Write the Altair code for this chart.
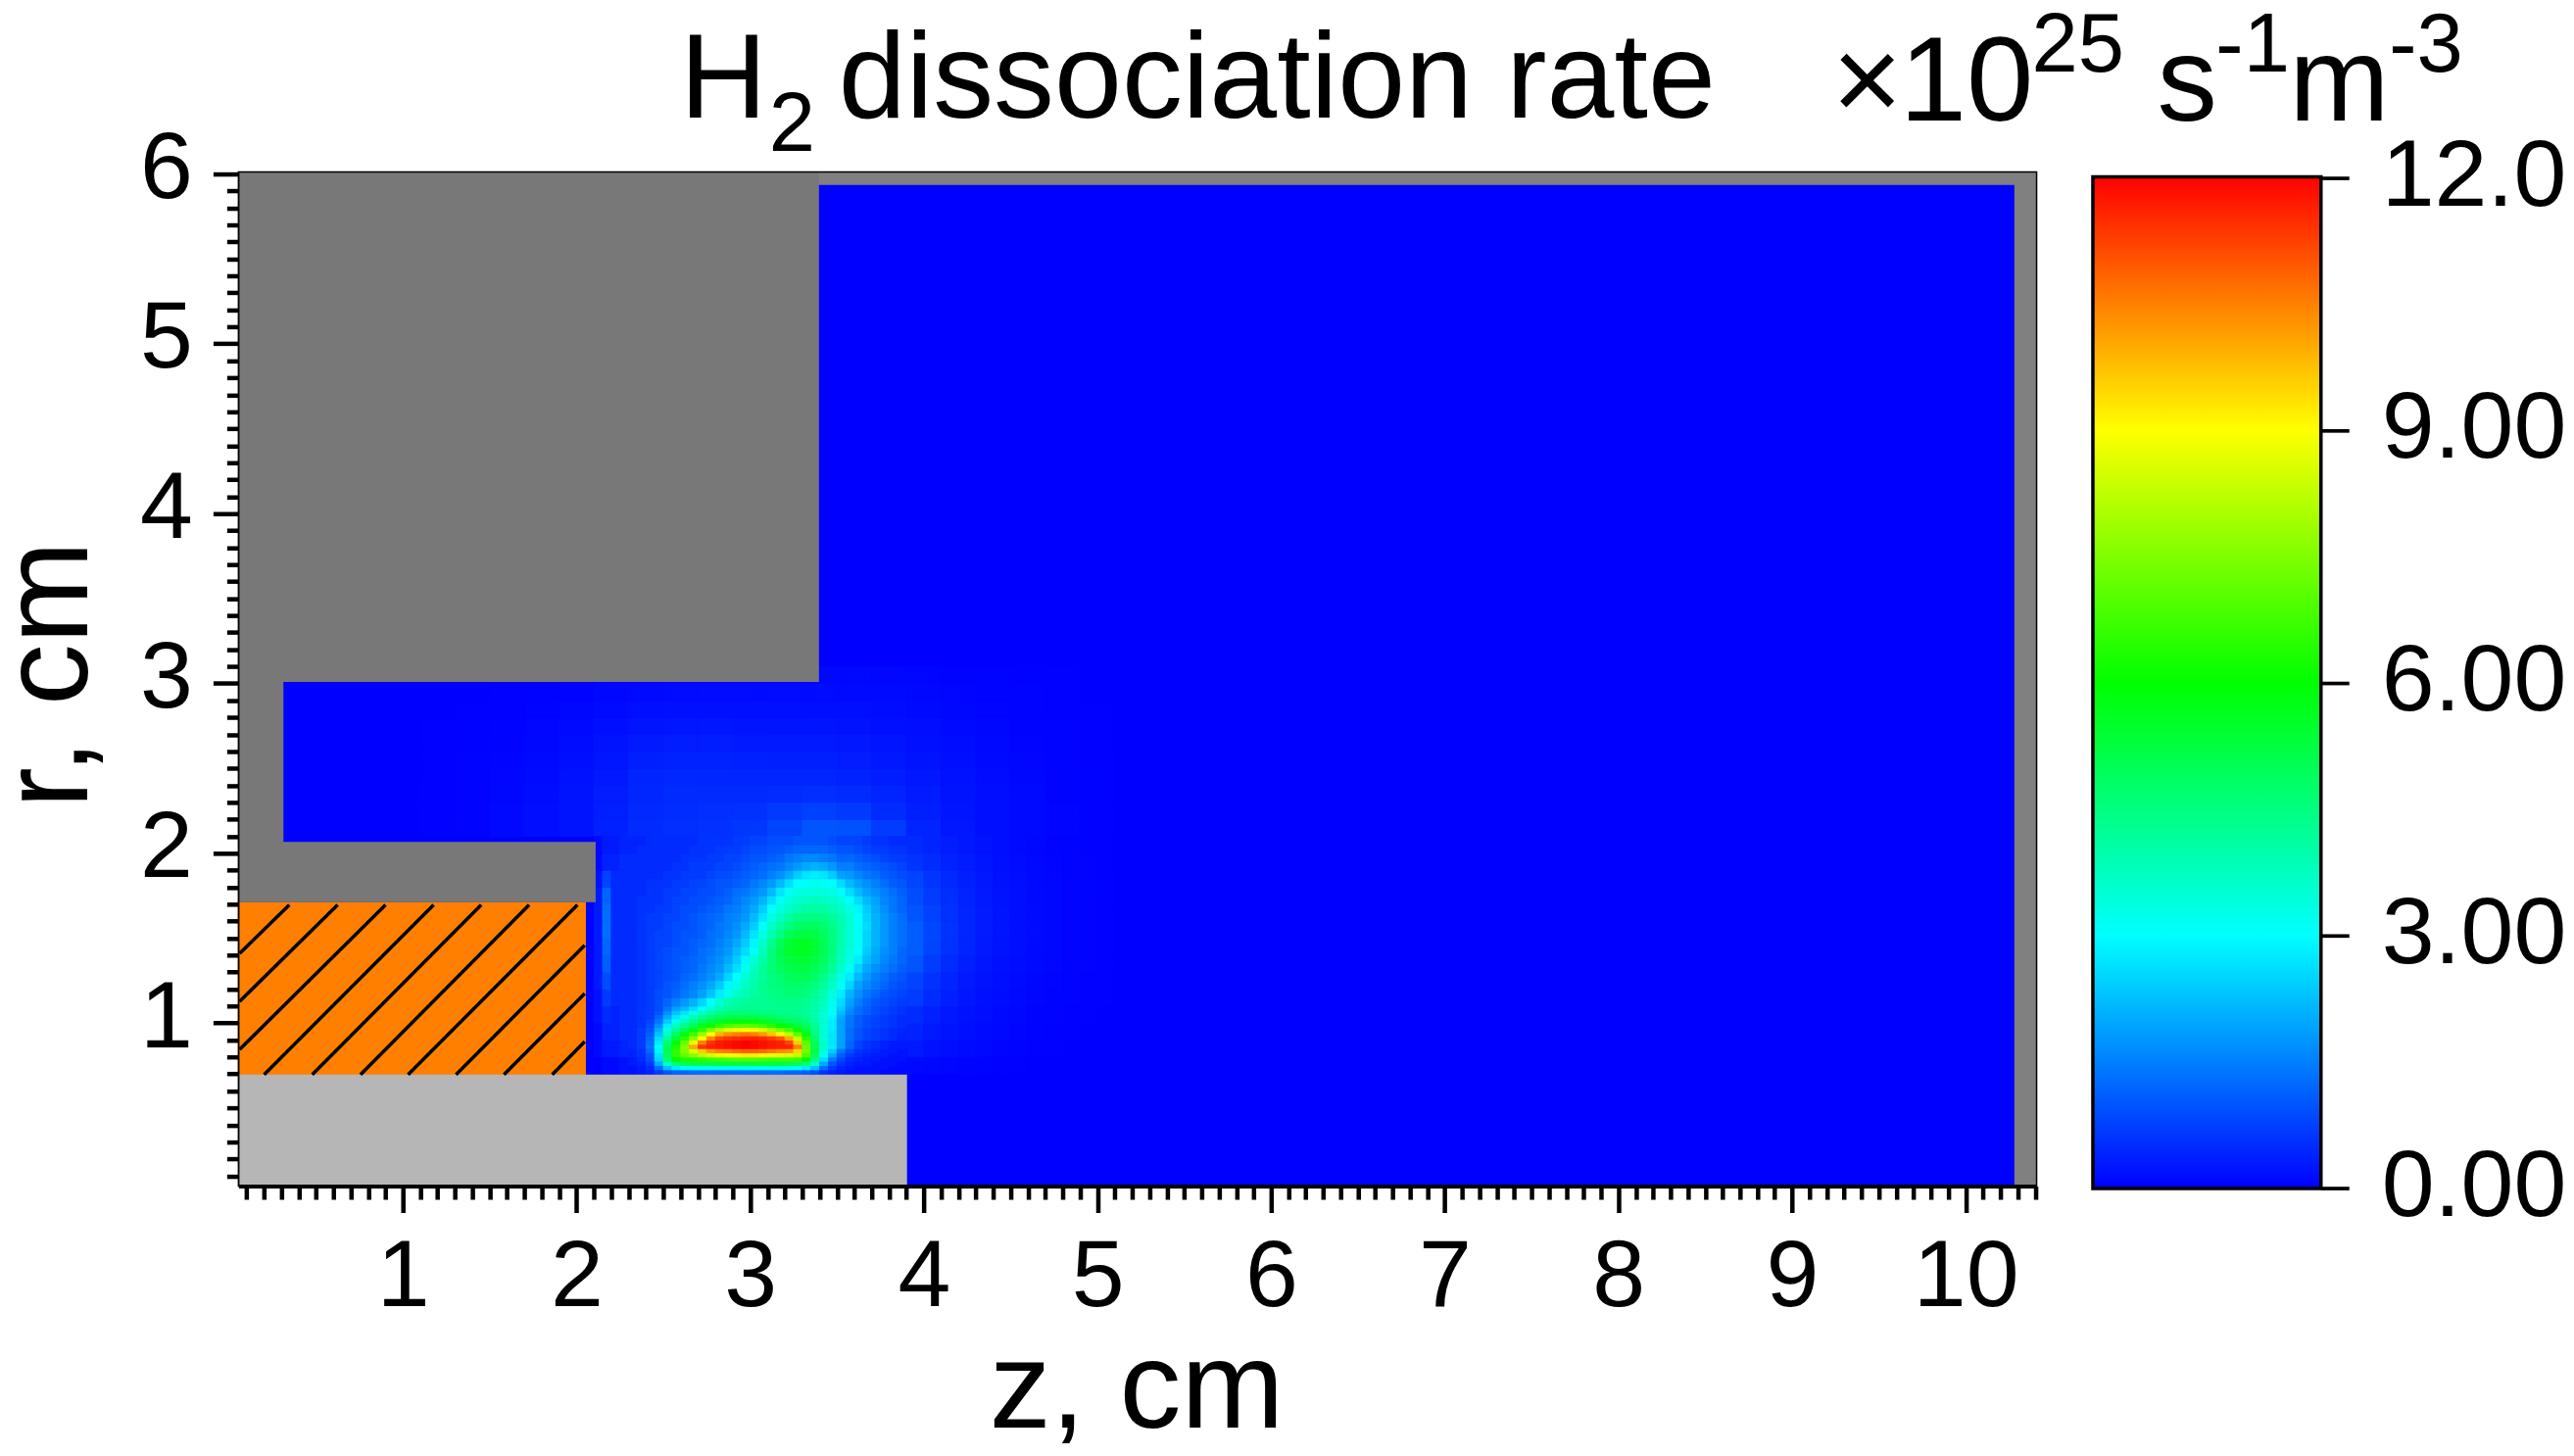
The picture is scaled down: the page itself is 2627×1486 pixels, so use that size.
import altair as alt
import pandas as pd

FONT = "Liberation Sans"
COLORS = ["#0000ff", "#00ffff", "#00ff00", "#ffff00", "#ff0000"]
LEVELS = [0, 3, 6, 9, 12]
Z_RANGE = [0.053, 10.408]
R_RANGE = [0.04, 6.0115]

# field, hot zone, z from 2.30 in steps of 0.05
low_rows = [
 [.2,.3,.4,.7,1.0,1.2,1.2,1.3,1.3,1.3,1.3,1.3,1.3,1.3,1.3,1.3,1.3,1.3,1.2,1.2,1.1,.9,.6,.4,.3,.2,.2,.2,.2,.1,.1,.1],
 [.2,.3,.5,1.3,2.3,2.8,3.0,3.1,3.1,3.2,3.2,3.2,3.2,3.2,3.2,3.2,3.2,3.2,3.1,3.0,2.8,2.3,1.3,.7,.4,.3,.2,.2,.2,.2,.1,.1],
 [.3,.4,.7,2.0,3.6,4.7,5.0,5.2,5.2,5.2,5.2,5.3,5.3,5.3,5.3,5.3,5.3,5.2,5.2,5.0,4.6,3.6,2.0,1.0,.6,.4,.3,.3,.2,.2,.2,.1],
 [.3,.5,.9,2.5,4.6,6.0,6.3,6.4,6.5,6.6,6.7,6.8,6.9,6.9,6.9,6.8,6.7,6.7,6.7,6.6,5.9,4.4,2.6,1.4,.8,.5,.4,.3,.3,.2,.2,.2],
 [.4,.6,1.0,2.7,4.9,6.5,7.2,7.6,8.2,8.5,8.8,8.9,9.1,9.2,9.2,9.1,8.8,8.7,8.6,8.3,6.9,5.0,3.1,2.0,1.1,.7,.5,.4,.3,.3,.2,.2],
 [.4,.6,1.2,2.9,5.0,6.6,7.5,8.5,9.6,10.2,10.5,10.6,10.8,10.9,10.9,10.8,10.6,10.4,10.3,9.5,7.4,5.2,3.4,2.4,1.4,.9,.6,.5,.4,.3,.3,.2],
 [.5,.7,1.4,3.0,5.0,6.3,7.6,10.0,11.4,11.6,11.7,11.8,11.9,12,11.9,11.8,11.7,11.6,11.6,10.5,7.2,5.0,3.6,2.8,1.9,1.2,.8,.6,.5,.4,.3,.3],
 [.5,.7,1.3,2.8,4.6,5.9,7.2,8.8,10.5,11.4,11.7,11.8,11.9,12,11.9,11.8,11.7,11.6,11.2,9.6,7.1,5.0,3.6,2.7,1.9,1.2,.8,.6,.5,.4,.3,.3],
 [.5,.7,1.2,2.6,4.2,5.4,6.5,7.6,9.0,10.4,11.2,11.4,11.5,11.6,11.6,11.5,11.3,11.0,10.0,8.4,6.5,4.7,3.5,2.7,1.9,1.3,1.0,.8,.7,.6,.5,.4],
 [.5,.7,1.1,2.3,3.7,4.8,5.8,6.7,7.8,9.0,9.9,10.3,10.5,10.6,10.5,10.2,9.7,9.1,8.2,7.1,5.8,4.5,3.5,2.7,1.9,1.3,1.0,.8,.7,.6,.5,.4],
 [.5,.7,1.0,2.0,3.3,4.2,5.0,5.7,6.5,7.4,8.1,8.6,8.8,8.9,8.8,8.5,7.9,7.4,6.8,6.1,5.3,4.4,3.5,2.8,1.9,1.3,1.0,.8,.7,.6,.5,.4],
 [.5,.6,.9,1.7,2.8,3.7,4.4,5.0,5.6,6.1,6.6,6.9,7.1,7.1,7.0,6.8,6.4,6.0,5.7,5.3,4.9,4.3,3.5,2.8,1.9,1.4,1.1,.9,.8,.7,.6,.5],
 [.5,.6,.8,1.4,2.4,3.2,3.8,4.4,4.9,5.3,5.6,5.8,5.9,5.9,5.9,5.7,5.5,5.2,5.0,4.8,4.6,4.1,3.5,2.8,1.9,1.4,1.1,.9,.8,.7,.6,.5],
 [.5,.6,.7,1.2,2.0,2.7,3.2,3.8,4.3,4.7,4.9,5.1,5.1,5.1,5.1,5.0,4.9,4.7,4.6,4.5,4.3,4.0,3.5,2.9,2.0,1.4,1.1,.9,.8,.7,.6,.5],
 [.5,.6,.7,1.0,1.7,2.3,2.7,3.2,3.7,4.1,4.4,4.6,4.6,4.6,4.6,4.5,4.5,4.4,4.4,4.3,4.2,4.0,3.5,3.0,2.2,1.6,1.3,1.1,.9,.8,.7,.6],
 [.5,.6,.7,.9,1.4,1.9,2.2,2.6,3.0,3.5,3.9,4.2,4.3,4.3,4.3,4.3,4.3,4.3,4.3,4.3,4.2,4.0,3.6,3.1,2.4,1.7,1.3,1.1,.9,.8,.7,.6],
]
up_rows = [
 [.5,.6,.7,.9,1.2,1.5,1.8,2.1,2.5,3.0,3.5,3.9,4.1,4.2,4.3,4.3,4.3,4.4,4.4,4.4,4.3,4.1,3.8,3.2,2.6,1.9,1.5,1.2,1.0,.9,.8,.7],
 [.5,.6,.7,.9,1.0,1.2,1.4,1.6,1.9,2.3,2.8,3.2,3.6,3.9,4.1,4.3,4.4,4.5,4.6,4.6,4.5,4.3,3.9,3.4,2.8,2.1,1.7,1.4,1.2,1.0,.9,.8],
 [.5,.6,.7,.8,1.0,1.1,1.3,1.5,1.7,2.0,2.4,2.9,3.3,3.7,4.0,4.3,4.5,4.6,4.8,4.8,4.7,4.5,4.2,3.7,3.1,2.5,1.9,1.6,1.4,1.2,1.0,.9],
 [.5,.6,.7,.8,.9,1.0,1.2,1.3,1.5,1.7,2.0,2.5,3.0,3.5,3.9,4.2,4.5,4.7,4.9,5.0,5.0,4.8,4.4,3.9,3.3,2.8,2.2,1.8,1.5,1.3,1.1,1.0],
 [.5,.6,.7,.8,.9,1.0,1.1,1.2,1.4,1.6,1.8,2.2,2.6,3.2,3.7,4.2,4.6,4.9,5.1,5.2,5.2,5.0,4.7,4.2,3.6,3.1,2.5,2.0,1.7,1.5,1.3,1.1],
 [.5,.6,.7,.8,.9,1.0,1.1,1.2,1.3,1.5,1.7,2.0,2.4,2.9,3.5,4.0,4.6,5.0,5.3,5.4,5.4,5.2,4.9,4.4,3.8,3.3,2.8,2.2,1.9,1.6,1.4,1.2],
 [.5,.6,.7,.8,.9,1.0,1.0,1.1,1.3,1.4,1.6,1.8,2.2,2.6,3.1,3.8,4.5,5.1,5.5,5.6,5.6,5.4,5.0,4.5,3.9,3.4,3.0,2.4,2.0,1.7,1.5,1.2],
 [.5,.6,.7,.8,.8,.9,1.0,1.1,1.2,1.3,1.5,1.7,2.0,2.4,2.9,3.6,4.3,5.0,5.4,5.6,5.6,5.4,5.0,4.5,4.0,3.5,3.1,2.5,2.1,1.8,1.5,1.3],
 [.5,.6,.7,.8,.8,.9,1.0,1.0,1.1,1.3,1.4,1.6,1.8,2.2,2.7,3.3,3.9,4.5,5.0,5.2,5.3,5.2,4.9,4.5,4.0,3.5,3.1,2.5,2.1,1.8,1.5,1.3],
 [.5,.6,.7,.7,.8,.9,.9,1.0,1.1,1.2,1.4,1.5,1.7,2.0,2.4,3.0,3.6,4.1,4.5,4.8,4.9,4.9,4.7,4.4,4.0,3.5,3.1,2.6,2.1,1.8,1.5,1.3],
 [.5,.6,.7,.7,.8,.8,.9,1.0,1.1,1.2,1.3,1.5,1.6,1.8,2.2,2.7,3.3,3.7,4.1,4.4,4.5,4.5,4.4,4.2,3.9,3.5,3.0,2.5,2.1,1.8,1.5,1.3],
 [.5,.6,.6,.7,.7,.8,.9,.9,1.0,1.1,1.2,1.4,1.5,1.7,2.0,2.4,3.0,3.4,3.7,3.9,4.1,4.1,4.1,3.9,3.7,3.3,2.9,2.4,2.0,1.7,1.4,1.2],
 [.5,.6,.6,.6,.7,.8,.8,.9,.9,1.0,1.1,1.2,1.4,1.6,1.8,2.1,2.6,3.1,3.4,3.6,3.7,3.8,3.7,3.6,3.4,3.0,2.6,2.2,1.9,1.6,1.4,1.2],
 [.5,.5,.6,.6,.7,.7,.8,.8,.9,.9,1.0,1.1,1.3,1.4,1.6,1.8,2.2,2.7,3.1,3.3,3.4,3.4,3.4,3.3,3.1,2.6,2.2,1.9,1.7,1.5,1.3,1.1],
 [.5,.5,.6,.6,.6,.7,.7,.8,.8,.9,1.0,1.0,1.1,1.2,1.4,1.6,1.8,2.2,2.6,3.0,3.1,3.2,3.1,3.0,2.6,2.2,1.9,1.7,1.5,1.3,1.1,1.0],
 [.5,.5,.5,.5,.6,.6,.7,.7,.7,.8,.9,.9,1.0,1.1,1.2,1.3,1.5,1.7,2.0,2.4,2.7,2.8,2.7,2.4,1.9,1.8,1.6,1.4,1.3,1.1,1.0,.9],
 [.5,.5,.5,.5,.5,.6,.6,.7,.7,.7,.8,.8,.9,1.0,1.1,1.2,1.3,1.4,1.6,1.8,2.0,2.1,2.0,1.8,1.5,1.5,1.3,1.2,1.1,1.0,.9,.8],
 [.5,.5,.5,.5,.5,.5,.6,.6,.6,.7,.7,.8,.8,.9,1.0,1.0,1.1,1.2,1.4,1.5,1.6,1.6,1.5,1.4,1.2,1.2,1.1,1.0,.9,.8,.7,.7],
 [.4,.5,.5,.5,.5,.5,.5,.6,.6,.6,.7,.7,.7,.8,.9,.9,1.0,1.0,1.1,1.2,1.2,1.2,1.2,1.1,1.0,1.0,.9,.8,.7,.7,.6,.6],
 [.4,.4,.5,.5,.5,.5,.5,.5,.6,.6,.6,.6,.7,.7,.8,.8,.9,.9,.9,1.0,1.0,1.0,1.0,.9,.8,.8,.8,.7,.6,.6,.5,.5],
]
# left of the hot zone, z from 2.05 in steps of 0.05, r from 0.70 in steps of 0.10
left_rows = [
 [0,0,.1,.1,.2],[0,.1,.3,.3,.4],[0,.1,.4,.4,.5],[0,.2,.5,.4,.5],[0,.2,.7,.5,.5],
 [0,.3,.9,.5,.5],[0,.3,1.1,.5,.5],[0,.3,1.2,.5,.5],[0,.3,1.3,.5,.5],[0,.3,1.3,.5,.5],
 [0,.3,1.2,.5,.5],[0,.2,.8,.5,.5],[0,.1,.4,.4,.5],[0,.1,.3,.3,.4],
]
# right of the hot zone, z from 3.90 in steps of 0.10, r from 0.70 in steps of 0.10
right_rows = [
 [.1,.08,.06,.05,.03,.02,.01,0,0,0,0,0],
 [.3,.2,.15,.12,.09,.06,.04,.02,.01,0,0,0],
 [.4,.3,.22,.16,.12,.09,.06,.04,.02,.01,0,0],
 [.5,.38,.28,.2,.15,.11,.08,.05,.03,.02,.01,0],
 [.7,.5,.36,.26,.19,.14,.1,.07,.05,.03,.02,.01],
 [.8,.58,.42,.3,.22,.16,.12,.08,.06,.04,.02,.01],
 [1.0,.7,.5,.36,.26,.19,.14,.1,.07,.05,.03,.02],
 [1.1,.8,.58,.42,.3,.22,.16,.11,.08,.05,.03,.02],
 [1.1,.82,.6,.44,.32,.23,.17,.12,.08,.05,.03,.02],
 [1.0,.78,.58,.43,.32,.23,.17,.12,.08,.05,.03,.02],
 [.9,.7,.54,.41,.3,.22,.16,.11,.08,.05,.03,.02],
 [.8,.62,.48,.37,.28,.2,.15,.1,.07,.05,.03,.02],
 [.6,.5,.4,.32,.25,.18,.13,.09,.06,.04,.03,.01],
 [.5,.42,.34,.27,.21,.16,.11,.08,.05,.04,.02,.01],
]
# above the hot zone, z from 1.10 in steps of 0.20, r from 2.10 in steps of 0.10
top_rows = [
 [.02,.05,.09,.15,.22,.38,.5,.55,.58,.65,.8,1.0,.95,.7,.42,.27,.17,.11,.06,.02],
 [.02,.05,.09,.15,.22,.36,.48,.52,.55,.58,.68,.75,.68,.5,.36,.25,.16,.1,.06,.02],
 [.02,.04,.08,.14,.22,.33,.45,.5,.5,.5,.52,.55,.5,.42,.32,.22,.15,.1,.05,.02],
 [.01,.04,.07,.12,.2,.3,.42,.46,.45,.44,.44,.44,.4,.34,.27,.2,.13,.08,.05,.02],
 [.01,.03,.06,.1,.17,.26,.36,.4,.4,.38,.37,.36,.33,.28,.22,.17,.11,.07,.04,.02],
 [.01,.02,.05,.08,.14,.22,.3,.33,.33,.31,.3,.29,.27,.23,.18,.14,.09,.06,.03,.01],
 [.01,.02,.04,.06,.1,.17,.24,.26,.26,.25,.24,.23,.21,.18,.15,.11,.08,.05,.03,.01],
 [0,.01,.02,.04,.07,.12,.17,.19,.19,.18,.18,.17,.16,.14,.11,.08,.06,.04,.02,.01],
 [0,0,.01,.02,.04,.07,.1,.12,.12,.12,.12,.12,.11,.1,.08,.06,.04,.03,.02,0],
 [0,0,0,0,0,0,0,0,0,0,0,.08,.08,.07,.06,.05,.03,.02,.01,0],
]

# geometry: name, z0, z1, r0, r1, fill
regions = [
 ("frame", 0.053, 10.408, 0.04, 6.0115, "#808080"),
 ("volume", 0.053, 10.28, 0.04, 5.935, "#0000ff"),
]
solids = [
 ("outer", 0.053, 3.396, 3.009, 6.0115, "#787878"),
 ("strip", 0.053, 0.312, 2.06, 3.009, "#787878"),
 ("shelf", 0.053, 2.11, 1.712, 2.067, "#787878"),
 ("target", 0.053, 2.054, 0.695, 1.712, "#ff8000"),
 ("rod", 0.053, 3.903, 0.04, 0.697, "#b6b6b6"),
]
hatch = [
 (.060,1.410,.346,1.696),(.060,1.128,.624,1.696),(.060,.845,.900,1.696),
 (.201,.697,1.177,1.696),(.478,.697,1.451,1.696),(.756,.697,1.727,1.696),
 (1.030,.697,2.005,1.696),(1.306,.697,2.047,1.458),(1.582,.697,2.047,1.174),
 (1.860,.697,2.047,.891),
]
x_major = [1, 2, 3, 4, 5, 6, 7, 8, 9, 10]
y_major = [1, 2, 3, 4, 5, 6]
x_minor = [i / 10 for i in range(1, 105) if i % 10]
y_minor = [i / 10 for i in range(1, 60) if i % 10]
bar_ticks = [0, 3, 6, 9, 12]


def cells(rows, z0, dz, r0, dr):
    out = []
    for i, row in enumerate(rows):
        for j, v in enumerate(row):
            out.append(dict(z0=z0 + j * dz, z1=z0 + (j + 1) * dz,
                            r0=r0 + i * dr, r1=r0 + (i + 1) * dr, v=v))
    return out


field = pd.DataFrame(
    cells(top_rows, 1.10, 0.20, 2.10, 0.10)
    + cells(left_rows, 2.05, 0.05, 0.70, 0.10)
    + cells(right_rows, 3.90, 0.10, 0.70, 0.10)
    + cells(low_rows, 2.30, 0.05, 0.70, 0.025)
    + cells(up_rows, 2.30, 0.05, 1.10, 0.05)
)
field = field[field.v > 0]
reg = pd.DataFrame(regions, columns=["name", "z0", "z1", "r0", "r1", "fill"])
sol = pd.DataFrame(solids, columns=["name", "z0", "z1", "r0", "r1", "fill"])
hat = pd.DataFrame(hatch, columns=["z0", "r0", "z1", "r1"])

zscale = alt.Scale(domain=Z_RANGE, nice=False, zero=False)
rscale = alt.Scale(domain=R_RANGE, nice=False, zero=False)
xs = alt.X("z0:Q", scale=zscale,
           axis=alt.Axis(values=x_major, title="z, cm", grid=False, format="d", zindex=1,
                         labelOverlap=False, labelFontSize=97, labelFont=FONT, labelColor="black",
                         labelPadding=18, labelFlush=False, labelLimit=400,
                         tickColor="black", tickWidth=4.5, tickSize=27,
                         domainColor="black", domainWidth=4,
                         titleFont=FONT, titleFontSize=126, titleFontWeight="normal", titleColor="black",
                         titleX=917, titleY=246, titleBaseline="alphabetic", titleAlign="center"))
ys = alt.Y("r0:Q", scale=rscale,
           axis=alt.Axis(values=y_major, title="r, cm", grid=False, format="d", zindex=1,
                         labelOverlap=False, labelFontSize=97, labelFont=FONT, labelColor="black",
                         labelPadding=21, labelFlush=False, labelOffset=-5, labelLimit=400,
                         tickColor="black", tickWidth=4.5, tickSize=26,
                         domainColor="black", domainWidth=1,
                         titleFont=FONT, titleFontSize=126, titleFontWeight="normal", titleColor="black",
                         titleX=-155, titleY=513, titleAngle=270, titleBaseline="alphabetic", titleAlign="center"))

base_reg = alt.Chart(reg).mark_rect().encode(
    x=xs, x2="z1:Q", y=ys, y2="r1:Q", fill=alt.Fill("fill:N", scale=None))
cscale = alt.Scale(domain=LEVELS, range=COLORS, interpolate="rgb", clamp=True)
heat = alt.Chart(field).mark_rect(strokeWidth=1).encode(
    x="z0:Q", x2="z1:Q", y="r0:Q", y2="r1:Q",
    fill=alt.Fill("v:Q", scale=cscale, legend=None),
    stroke=alt.Stroke("v:Q", scale=cscale, legend=None))
sol_l = alt.Chart(sol).mark_rect().encode(
    x="z0:Q", x2="z1:Q", y="r0:Q", y2="r1:Q", fill=alt.Fill("fill:N", scale=None))
hat_l = alt.Chart(hat).mark_rule(color="black", strokeWidth=3.5).encode(
    x="z0:Q", x2="z1:Q", y="r0:Q", y2="r1:Q")
frame = alt.Chart(reg.iloc[[0]]).mark_rect(fillOpacity=0, stroke="black", strokeWidth=1.5).encode(
    x="z0:Q", x2="z1:Q", y="r0:Q", y2="r1:Q")


def piece(text, x, y, size):
    return alt.Chart(pd.DataFrame({"t": [text]})).mark_text(
        font=FONT, fontSize=size, align="left", baseline="alphabetic", color="black"
    ).encode(text="t:N", x=alt.value(x), y=alt.value(y))


title_bits = [
    piece("H", 451, -56, 123), piece("2", 542, -22, 85),
    piece("dissociation rate", 613, -56, 124),
    piece("\u00d7", 1628, -53, 123), piece("10", 1697, -53, 123),
    piece("25", 1832, -103, 85), piece("s", 1960, -53, 123),
    piece("-1", 2020, -103, 85), piece("m", 2095, -53, 123),
    piece("-3", 2197, -103, 85),
]

minor = alt.Chart(reg.iloc[[0]]).mark_rect(opacity=0).encode(
    x=alt.X("z0:Q", scale=zscale,
            axis=alt.Axis(orient="bottom", values=x_minor, title=None, labels=False, domain=False,
                          grid=False, tickColor="black", tickWidth=4.5, tickSize=13.5)),
    x2="z1:Q",
    y=alt.Y("r0:Q", scale=rscale,
            axis=alt.Axis(orient="left", values=y_minor, title=None, labels=False, domain=False,
                          grid=False, tickColor="black", tickWidth=4.5, tickSize=12)),
    y2="r1:Q",
)

drawn = alt.layer(base_reg, heat, sol_l, hat_l, frame, *title_bits)
main = alt.layer(drawn, minor).resolve_scale(x="independent", y="independent").properties(
    width=1837, height=1036)

grad = alt.LinearGradient(
    gradient="linear",
    stops=[alt.GradientStop(offset=o / 4, color=c) for o, c in enumerate(COLORS)],
    x1=0, x2=0, y1=1, y2=0)
bar_df = pd.DataFrame({"a": [0], "b": [1], "lo": [-0.01], "hi": [12.01]})
bar = alt.Chart(bar_df).mark_rect(fill=grad, stroke="black", strokeWidth=3.5).encode(
    x=alt.X("a:Q", scale=alt.Scale(domain=[0, 1], nice=False, zero=False), axis=None),
    x2="b:Q",
    y=alt.Y("lo:Q", scale=alt.Scale(domain=[-0.062, 12.066], nice=False, zero=False),
            axis=alt.Axis(orient="right", values=bar_ticks, title=None, grid=False, domain=False,
                          labelExpr="datum.value==12 ? '12.0' : format(datum.value,'.2f')",
                          labelFont=FONT, labelFontSize=97, labelColor="black", labelPadding=33,
                          labelFlush=False, labelOverlap=False, labelOffset=-1, labelLimit=400,
                          tickColor="black", tickWidth=3.7, tickSize=28.5)),
    y2="hi:Q",
).properties(width=233, height=1043)

chart = alt.hconcat(main, bar, spacing=57.5, bounds="flush").properties(
    padding={"left": -20.4, "top": -4, "right": 0, "bottom": 0}, background="white"
).configure_view(stroke=None)

chart.save("out.html", embed_options={"renderer": "svg", "actions": False})
